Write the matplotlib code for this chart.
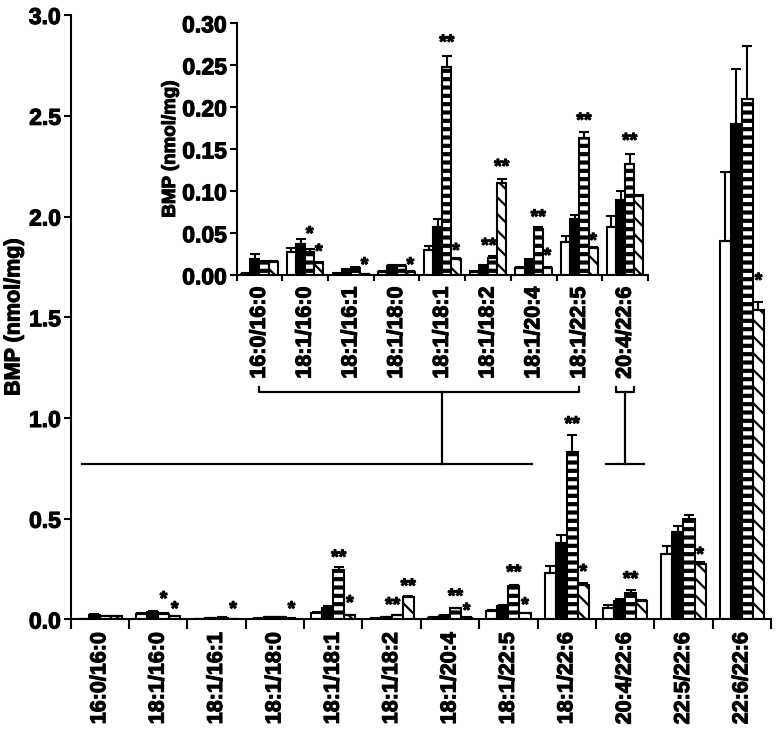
import matplotlib
matplotlib.use('Agg')
import matplotlib.pyplot as plt
import matplotlib.transforms as mtransforms
import matplotlib.patheffects as pe
from matplotlib.lines import Line2D
from matplotlib.ticker import FormatStrFormatter
import numpy as np

plt.rcParams['font.family'] = ['Liberation Sans', 'DejaVu Sans']
plt.rcParams['font.weight'] = 'bold'

# BMP species on the x axis
categories = ['16:0/16:0', '18:1/16:0', '18:1/16:1', '18:1/18:0', '18:1/18:1',
              '18:1/18:2', '18:1/20:4', '18:1/22:5', '18:1/22:6', '20:4/22:6',
              '22:5/22:6', '22:6/22:6']

# the four groups (white, black, horizontal stripes, diagonal hatch), mean and SEM
white = [0.002, 0.028, 0.002, 0.004, 0.030, 0.004, 0.009, 0.040, 0.232, 0.058, 0.326, 1.880]
white_err = [0.001, 0.005, 0.0005, 0.001, 0.005, 0.001, 0.001, 0.007, 0.033, 0.012, 0.040, 0.340]
black = [0.020, 0.037, 0.006, 0.011, 0.057, 0.011, 0.018, 0.067, 0.381, 0.090, 0.434, 2.457]
black_err = [0.005, 0.006, 0.001, 0.001, 0.010, 0.001, 0.002, 0.005, 0.038, 0.010, 0.030, 0.277]
striped = [0.015, 0.028, 0.009, 0.011, 0.248, 0.021, 0.055, 0.164, 0.833, 0.132, 0.497, 2.581]
striped_err = [0.002, 0.003, 0.001, 0.001, 0.013, 0.002, 0.002, 0.006, 0.083, 0.012, 0.022, 0.266]
hatched = [0.016, 0.015, 0.001, 0.004, 0.020, 0.110, 0.009, 0.033, 0.171, 0.094, 0.273, 1.536]
hatched_err = [0.001, 0.001, 0.0003, 0.001, 0.001, 0.005, 0.001, 0.001, 0.008, 0.002, 0.010, 0.040]

# categories repeated in the zoomed inset
inset_idx = [0, 1, 2, 3, 4, 5, 6, 7, 9]

# significance marks: (category, bar slot, text, height)
main_stars = [(1, 2, '*', 0.13), (1, 3, '*', 0.08), (2, 3, '*', 0.08), (3, 3, '*', 0.08),
              (4, 2, '**', 0.336), (4, 3, '*', 0.11), (5, 1.6, '**', 0.10), (5, 3, '**', 0.193),
              (6, 2, '**', 0.143), (6, 3, '*', 0.072), (7, 2, '**', 0.262), (7, 3, '*', 0.10),
              (8, 2, '**', 0.998), (8, 3, '*', 0.265), (9, 2, '**', 0.229), (10, 3, '*', 0.35),
              (11, 3, '*', 1.71)]
inset_stars = [(1, 2, '*', 0.056), (1, 3, '*', 0.035), (2, 3, '*', 0.019), (3, 3, '*', 0.019),
               (4, 2, '**', 0.284), (4, 3, '*', 0.036), (5, 1.6, '**', 0.042), (5, 3, '**', 0.136),
               (6, 2, '**', 0.076), (6, 3, '*', 0.030), (7, 2, '**', 0.191), (7, 3, '*', 0.048),
               (8, 2, '**', 0.167)]

series = [
    (white, white_err, 'white', None, 1.0),
    (black, black_err, 'black', None, 1.0),
    (striped, striped_err, 'white', '--', 3.0),
    (hatched, hatched_err, 'white', '\\\\', 1.6),
]

# heavier strokes, the original uses a black condensed face
heavy = [pe.withStroke(linewidth=0.8, foreground='black')]


def draw_bars(ax, idx, width):
    x = np.arange(len(idx))
    for k, (vals, errs, fc, hatch, hlw) in enumerate(series):
        v = np.array(vals)[idx]
        e = np.array(errs)[idx]
        with plt.rc_context({'hatch.linewidth': hlw}):
            bars = ax.bar(x + (k - 1.5) * width, v, width,
                          yerr=[np.zeros_like(e), e], color=fc, edgecolor='black',
                          linewidth=1.5, hatch=hatch, capsize=3.5, zorder=2,
                          error_kw=dict(elinewidth=1.5, capthick=1.5, ecolor='black'))
        for b in bars:
            if hasattr(b, 'set_hatch_linewidth'):
                b.set_hatch_linewidth(hlw)


def draw_stars(ax, stars, width, fs):
    for c, slot, txt, y in stars:
        ax.annotate(txt, (c + (slot - 1.5) * width, y), xytext=(0, -0.58 * fs),
                    textcoords='offset points', ha='center', va='baseline',
                    fontsize=fs, fontweight='bold', annotation_clip=False,
                    path_effects=heavy)


def style_axis(ax, n, pad):
    ax.set_xlim(-0.5, n - 0.5)
    ax.set_xticks(np.arange(-0.5, n, 1.0))
    ax.set_xticklabels([])
    ax.set_xticks(np.arange(n), minor=True)
    for s in ['top', 'right']:
        ax.spines[s].set_visible(False)
    for s in ['left', 'bottom']:
        ax.spines[s].set_linewidth(1.5)
    ax.tick_params(axis='x', which='minor', length=0, pad=pad, labelsize=15.5, rotation=90)
    ax.tick_params(axis='y', length=5, width=1.5, pad=2, labelsize=16.5)


def thicken(ax):
    for t in ax.get_xticklabels(minor=True) + ax.get_yticklabels() + [ax.yaxis.label]:
        t.set_path_effects(heavy)


fig = plt.figure(figsize=(7.76, 7.32), dpi=100)

# main panel
ax = fig.add_axes([0.0909, 0.1537, 0.9027, 0.8258])
draw_bars(ax, list(range(len(categories))), 0.19)
draw_stars(ax, main_stars, 0.19, 14)
style_axis(ax, len(categories), 9)
ax.set_xticklabels(categories, minor=True, fontweight='bold')
ax.tick_params(axis='x', which='major', length=7, width=1.5)
ax.set_ylim(0, 3.0)
ax.set_yticks(np.arange(0, 3.01, 0.5))
ax.yaxis.set_major_formatter(FormatStrFormatter('%.1f'))
ax.set_ylabel('BMP (nmol/mg)', fontsize=15.5, fontweight='bold')
ax.yaxis.set_label_coords(-0.066, 0.5)
thicken(ax)

# zoomed inset
axin = fig.add_axes([0.3048, 0.6239, 0.5303, 0.3443])
draw_bars(axin, inset_idx, 0.2)
draw_stars(axin, inset_stars, 0.2, 14)
style_axis(axin, len(inset_idx), 8)
axin.set_xticklabels([categories[i] for i in inset_idx], minor=True, fontweight='bold')
axin.tick_params(axis='x', which='major', length=4.5, width=1.5)
axin.set_ylim(0, 0.30)
axin.set_yticks(np.arange(0, 0.301, 0.05))
axin.yaxis.set_major_formatter(FormatStrFormatter('%.2f'))
axin.set_ylabel('BMP (nmol/mg)', fontsize=13.5, fontweight='bold')
axin.yaxis.set_label_coords(-0.14, 0.5)
thicken(axin)

# brackets linking inset labels to the main bars
blend = mtransforms.blended_transform_factory(axin.transData, ax.transData)
connectors = [
    ([0, 0, 7, 7], [1.154, 1.129, 1.129, 1.154], blend),
    ([4, 4], [1.129, 0.772], blend),
    ([-0.3, 7.4], [0.772, 0.772], ax.transData),
    ([7.8, 7.8, 8.2, 8.2], [1.154, 1.129, 1.129, 1.154], blend),
    ([8, 8], [1.129, 0.772], blend),
    ([8.68, 9.32], [0.772, 0.772], ax.transData),
]
for xs, ys, tr in connectors:
    ax.add_line(Line2D(xs, ys, transform=tr, color='black', linewidth=1.6, clip_on=False))

fig.savefig('out.png', dpi=100)
